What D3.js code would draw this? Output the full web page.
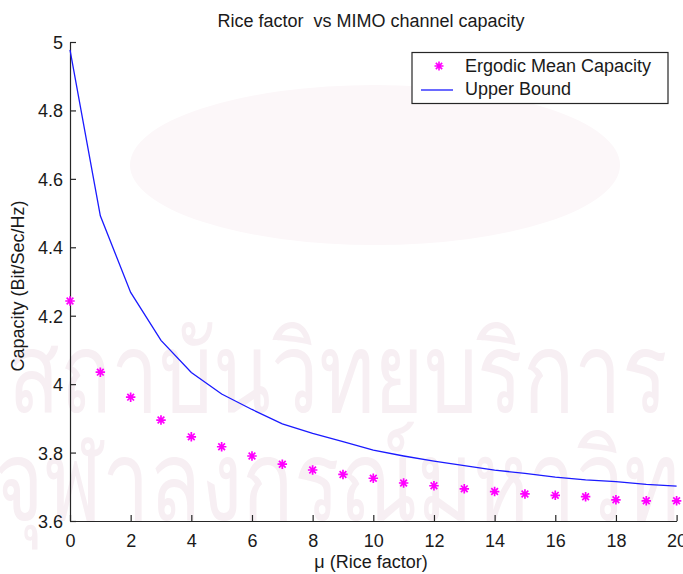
<!DOCTYPE html>
<html>
<head>
<meta charset="utf-8">
<script src="https://cdn.jsdelivr.net/npm/d3@7"></script>
<style>
  html, body { margin: 0; padding: 0; background: #ffffff; }
  svg { display: block; }
  text { font-family: Arial, "Liberation Sans", Helvetica, sans-serif; fill: #1a1a1a; }
</style>
</head>
<body>
<svg id="chart" width="683" height="574"></svg>
<script>
// Rice factor (mu) values on the horizontal axis
const riceFactor = [0, 1, 2, 3, 4, 5, 6, 7, 8, 9, 10, 11, 12, 13, 14, 15, 16, 17, 18, 19, 20];
// Simulated ergodic mean capacity (Bit/Sec/Hz)
const ergodicCapacity = [4.243, 4.035, 3.962, 3.895, 3.846, 3.817, 3.790, 3.766, 3.749, 3.736, 3.725,
                         3.711, 3.703, 3.694, 3.686, 3.679, 3.675, 3.671, 3.662, 3.659, 3.659];
// Analytical upper bound (Bit/Sec/Hz)
const upperBound = [4.977, 4.492, 4.268, 4.128, 4.034, 3.971, 3.926, 3.884, 3.856, 3.832, 3.807,
                    3.790, 3.775, 3.762, 3.749, 3.739, 3.728, 3.720, 3.715, 3.707, 3.702];
const xTicks = [0, 2, 4, 6, 8, 10, 12, 14, 16, 18, 20];
const yTicks = [3.6, 3.8, 4.0, 4.2, 4.4, 4.6, 4.8, 5.0];
const seriesNames = ["Ergodic Mean Capacity", "Upper Bound"];
const watermarkLines = ["สถาบันวิทยบริการ", "จุฬาลงกรณ์มหาวิทยาลัย"];

const svg = d3.select("#chart");
const margin = { left: 70, right: 6.4, top: 42, bottom: 53 };
const W = 683, H = 574;

const x = d3.scaleLinear().domain([0, 20]).range([margin.left, W - margin.right]);
const y = d3.scaleLinear().domain([3.6, 5.0]).range([H - margin.bottom, margin.top]);

// faint background watermark
const wm = svg.append("g").attr("class", "watermark");
wm.append("ellipse").attr("cx", 375).attr("cy", 165).attr("rx", 245).attr("ry", 80)
  .attr("fill", "#fcf7f9");
const wmRows = [{ x: 8, y: 412 }, { x: -6, y: 520 }];
const wmText = wm.selectAll("text.wm").data(watermarkLines).join("text")
  .attr("class", "wm")
  .attr("font-size", 112)
  .style("fill", "#f7eff3")
  .text(d => d);
// squeeze both rows horizontally by the factor that makes the first row span the width
const firstLen = wmText.nodes()[0].getComputedTextLength();
const squeeze = 660 / firstLen;
wmText.attr("transform", (d, i) => `translate(${wmRows[i].x},${wmRows[i].y}) scale(${squeeze},1)`);

// eight-spoke star marker
const starSymbol = {
  draw(ctx, size) {
    const r = Math.sqrt(size) / 2;
    const d = r * Math.SQRT1_2;
    ctx.moveTo(-r, 0); ctx.lineTo(r, 0);
    ctx.moveTo(0, -r); ctx.lineTo(0, r);
    ctx.moveTo(-d, -d); ctx.lineTo(d, d);
    ctx.moveTo(-d, d); ctx.lineTo(d, -d);
  }
};

// axes
const axisColor = "#262626";
const xAxis = d3.axisBottom(x).tickValues(xTicks).tickSizeInner(-6).tickSizeOuter(0)
  .tickPadding(13).tickFormat(d3.format("d"));
const gx = svg.append("g").attr("transform", `translate(0,${y(3.6)})`).call(xAxis);
const yAxis = d3.axisLeft(y).tickValues(yTicks).tickSizeInner(-6).tickSizeOuter(0)
  .tickPadding(7).tickFormat(d => d3.format("~g")(d));
const gy = svg.append("g").attr("transform", `translate(${x(0)},0)`).call(yAxis);
[gx, gy].forEach(g => {
  g.select(".domain").attr("stroke", axisColor).attr("stroke-width", 1.2);
  g.selectAll(".tick line").attr("stroke", axisColor).attr("stroke-width", 1.2);
  g.selectAll(".tick text").attr("font-size", 18).attr("font-family", "Arial, 'Liberation Sans', sans-serif")
    .style("fill", "#1a1a1a");
});
gy.selectAll(".tick text").attr("dy", "0.36em");

// upper bound curve
const line = d3.line().x((d, i) => x(riceFactor[i])).y(d => y(d));
svg.append("path").datum(upperBound).attr("d", line)
  .attr("fill", "none").attr("stroke", "#1a1aff").attr("stroke-width", 1.3);

// ergodic capacity markers
svg.append("g").selectAll("path").data(ergodicCapacity).join("path")
  .attr("transform", (d, i) => `translate(${x(riceFactor[i])},${y(d)})`)
  .attr("d", d3.symbol().type(starSymbol).size(90))
  .attr("fill", "none").attr("stroke", "#ff00ff").attr("stroke-width", 1.7);

// title and axis labels
svg.append("text").attr("x", 371).attr("y", 27).attr("text-anchor", "middle")
  .attr("font-size", 18).attr("xml:space", "preserve").text("Rice factor  vs MIMO channel capacity");
svg.append("text").attr("x", 371).attr("y", 568).attr("text-anchor", "middle")
  .attr("font-size", 18).text("μ (Rice factor)");
svg.append("text").attr("transform", "translate(23.5,286) rotate(-90)").attr("text-anchor", "middle")
  .attr("font-size", 18).text("Capacity (Bit/Sec/Hz)");

// legend
const lg = svg.append("g");
lg.append("rect").attr("x", 412).attr("y", 52.5).attr("width", 256).attr("height", 51)
  .attr("fill", "#ffffff").attr("stroke", axisColor).attr("stroke-width", 1.2);
lg.append("path").attr("transform", "translate(439,66)")
  .attr("d", d3.symbol().type(starSymbol).size(81))
  .attr("fill", "none").attr("stroke", "#ff00ff").attr("stroke-width", 1.6);
lg.append("line").attr("x1", 421).attr("x2", 453).attr("y1", 90).attr("y2", 90)
  .attr("stroke", "#1a1aff").attr("stroke-width", 1.3);
lg.append("text").attr("x", 465).attr("y", 72).attr("font-size", 18).text(seriesNames[0]);
lg.append("text").attr("x", 465).attr("y", 94.5).attr("font-size", 18).text(seriesNames[1]);
</script>
</body>
</html>
